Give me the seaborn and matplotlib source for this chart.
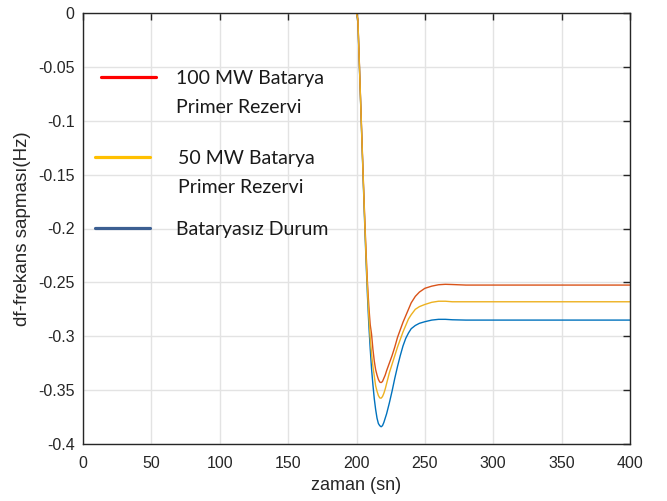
import numpy as np
import pandas as pd
import matplotlib
matplotlib.use("Agg")
import matplotlib.pyplot as plt
from matplotlib.lines import Line2D
import seaborn as sns

# values
zaman = [0, 200, 201, 202, 203, 204, 205, 206, 207, 208, 209, 210, 211, 212, 213,
         214, 215, 216, 217, 218, 219, 220, 221, 222, 224, 226, 228, 230, 232, 234,
         236, 238, 240, 243, 246, 250, 255, 260, 265, 270, 280, 300, 400]

df_100mw = [0, 0, -0.006, -0.043, -0.081, -0.118, -0.155, -0.190, -0.222, -0.250, -0.272,
            -0.289, -0.298, -0.312, -0.323, -0.331, -0.336, -0.340, -0.3425, -0.343,
            -0.342, -0.339, -0.336, -0.332, -0.325, -0.318, -0.310, -0.301, -0.294,
            -0.287, -0.281, -0.275, -0.269, -0.263, -0.259, -0.2555, -0.2535, -0.2522,
            -0.2518, -0.252, -0.2525, -0.2525, -0.2525]

df_50mw = [0, 0, -0.006, -0.044, -0.082, -0.120, -0.157, -0.193, -0.227, -0.256, -0.281,
           -0.301, -0.316, -0.328, -0.337, -0.346, -0.351, -0.355, -0.3572, -0.3575,
           -0.356, -0.353, -0.349, -0.344, -0.334, -0.326, -0.318, -0.310, -0.303,
           -0.296, -0.290, -0.284, -0.280, -0.275, -0.2725, -0.2705, -0.2685, -0.2675,
           -0.2675, -0.268, -0.268, -0.268, -0.268]

df_yok = [0, 0, -0.007, -0.045, -0.083, -0.121, -0.159, -0.196, -0.231, -0.262, -0.289,
          -0.311, -0.330, -0.345, -0.358, -0.368, -0.376, -0.381, -0.383, -0.384,
          -0.383, -0.380, -0.376, -0.372, -0.362, -0.351, -0.339, -0.328, -0.318,
          -0.309, -0.302, -0.297, -0.293, -0.290, -0.288, -0.2865, -0.285, -0.2843,
          -0.2843, -0.2847, -0.285, -0.285, -0.285]

seri = ["Bataryasız Durum", "100 MW Batarya", "50 MW Batarya"]
xticks = [0, 50, 100, 150, 200, 250, 300, 350, 400]
yticks = [0, -0.05, -0.1, -0.15, -0.2, -0.25, -0.3, -0.35, -0.4]

data = pd.DataFrame({
    "zaman": zaman * 3,
    "df": df_yok + df_100mw + df_50mw,
    "seri": [seri[0]] * len(zaman) + [seri[1]] * len(zaman) + [seri[2]] * len(zaman),
})

sns.set_theme(style="white")
plt.rcParams["font.family"] = ["Liberation Sans", "DejaVu Sans"]
plt.rcParams["axes.unicode_minus"] = False

fig = plt.figure(figsize=(6.67, 5.01), dpi=100)
ax = fig.add_axes([83 / 667, 57 / 501, 547 / 667, 431 / 501])

line_colors = {seri[0]: "#0072BD", seri[1]: "#D95319", seri[2]: "#EDB120"}
sns.lineplot(data=data, x="zaman", y="df", hue="seri", hue_order=seri,
             palette=line_colors, errorbar=None, legend=False, lw=1.0, ax=ax)

ax.set_xlim(0, 400)
ax.set_ylim(-0.4, 0)
ax.set_xticks(xticks)
ax.set_yticks(yticks)
ax.set_xticklabels([str(v) for v in xticks])
ax.set_yticklabels(["0", "-0.05", "-0.1", "-0.15", "-0.2", "-0.25", "-0.3", "-0.35", "-0.4"])
ax.grid(True, color="#E3E3E3", lw=1.0)
ax.set_axisbelow(True)
for s in ax.spines.values():
    s.set_color("#262626")
    s.set_linewidth(1.0)
ax.tick_params(direction="in", length=5, width=1.0, color="#262626", labelcolor="#262626",
               labelsize=11.5, top=True, right=True)
ax.tick_params(axis="x", pad=9)
ax.tick_params(axis="y", pad=6)
ax.set_xlabel("zaman (sn)", fontsize=13, color="#262626", labelpad=4)
ax.set_ylabel("df-frekans sapması(Hz)", fontsize=13.5, color="#262626", labelpad=5)

# legend drawn as three borderless blocks, like the text boxes in the original
leg_font = {"family": ["Lato", "DejaVu Sans"], "size": 14}
blank = Line2D([], [], color="none")
kw = dict(loc="upper left", frameon=False, borderpad=0, borderaxespad=0,
          handlelength=2.85, prop=leg_font, labelspacing=0.62, labelcolor="#1a1a1a")

leg1 = ax.legend([Line2D([], [], color="#FF0000", lw=2.3), blank],
                 ["100 MW Batarya", "Primer Rezervi"],
                 bbox_to_anchor=(0.033, 0.868), handletextpad=1.0, **kw)
ax.add_artist(leg1)
leg2 = ax.legend([Line2D([], [], color="#FFC000", lw=2.3), blank],
                 ["50 MW Batarya", "Primer Rezervi"],
                 bbox_to_anchor=(0.022, 0.683), handletextpad=1.4, **kw)
ax.add_artist(leg2)
ax.legend([Line2D([], [], color="#3C5F92", lw=2.3)], ["Bataryasız Durum"],
          bbox_to_anchor=(0.022, 0.518), handletextpad=1.3, **kw)

fig.savefig("out.png", dpi=100)
